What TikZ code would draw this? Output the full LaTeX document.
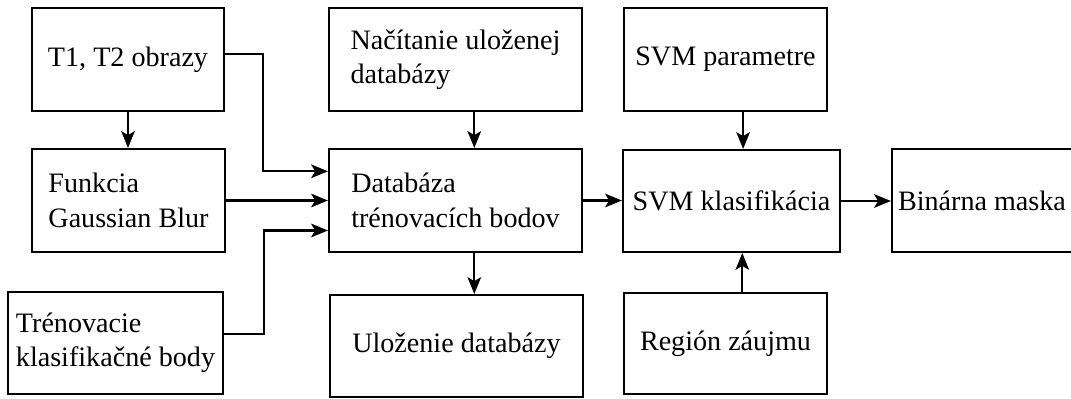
\documentclass[tikz,border=0pt]{standalone}
\usepackage{fontspec}
\setmainfont{Liberation Serif}
\usepackage{tikz}
\usetikzlibrary{arrows.meta,calc}
\tikzset{>={Stealth[length=0.42cm,width=0.34cm,inset=0.1cm]}}
\tikzset{
  block/.style={draw, line width=1.5pt, rectangle, align=left, inner sep=1pt,
    minimum height=2.575cm, font=\fontsize{20}{24.5}\selectfont},
  link/.style={->, line width=1.5pt}
}

\begin{document}
\begin{tikzpicture}
    \useasboundingbox (0,0) rectangle (26.775,9.95);
    \clip (0,0) rectangle (26.775,9.95);
    %inputs
    \node[block, minimum width=4.8cm] (obr) at (3.2,8.4625) {T1, T2 obrazy};
    \node[block, minimum width=4.825cm] (blur) at (3.2125,4.9375) {Funkcia\\Gaussian Blur};
    \node[block, minimum width=5.375cm, minimum height=2.55cm] (body) at (2.8875,1.375) {Trénovacie\\klasifikačné body};
    %database
    \node[block, minimum width=6.325cm] (nacit) at (11.3875,8.4625) {Načítanie uloženej\\databázy};
    \node[block, minimum width=6.325cm] (db) at (11.3875,4.9375) {Databáza\\trénovacích bodov};
    \node[block, minimum width=6.325cm, minimum height=2.55cm] (ulozenie) at (11.4125,1.3) {Uloženie databázy};
    %svm
    \node[block, minimum width=5.075cm] (param) at (18.1375,8.4625) {SVM parametre};
    \node[block, minimum width=5.425cm, minimum height=2.55cm] (svm) at (18.2875,4.925) {SVM klasifikácia};
    \node[block, minimum width=5.075cm, minimum height=2.525cm] (roi) at (18.1375,1.3625) {Región záujmu};
    \node[block, minimum width=4.5cm] (maska) at (24.55,4.9375) {Binárna maska};
    %connections
    \draw[link] (obr.south) -- (obr.south |- blur.north);
    \draw[link] ([yshift=0.14cm]obr.east) -- ++(0.95,0) |- ([yshift=0.73cm]db.west);
    \draw[link] (blur.east) -- (blur.east -| db.west);
    \draw[link] ([yshift=0.225cm]body.east) -- ++(1.0,0) |- ([yshift=-0.75cm]db.west);
    \draw[link] ([xshift=0.47cm]nacit.south) -- ([xshift=0.47cm]db.north);
    \draw[link] ([xshift=0.47cm]db.south) -- ([xshift=0.47cm]db.south |- ulozenie.north);
    \draw[link] (db.east) -- (db.east -| svm.west);
    \draw[link] ([xshift=0.44cm]param.south) -- ([xshift=0.44cm]param.south |- svm.north);
    \draw[link] ([xshift=0.42cm]roi.north) -- ([xshift=0.42cm]roi.north |- svm.south);
    \draw[link] (svm.east) -- (svm.east -| maska.west);
\end{tikzpicture}
\end{document}
